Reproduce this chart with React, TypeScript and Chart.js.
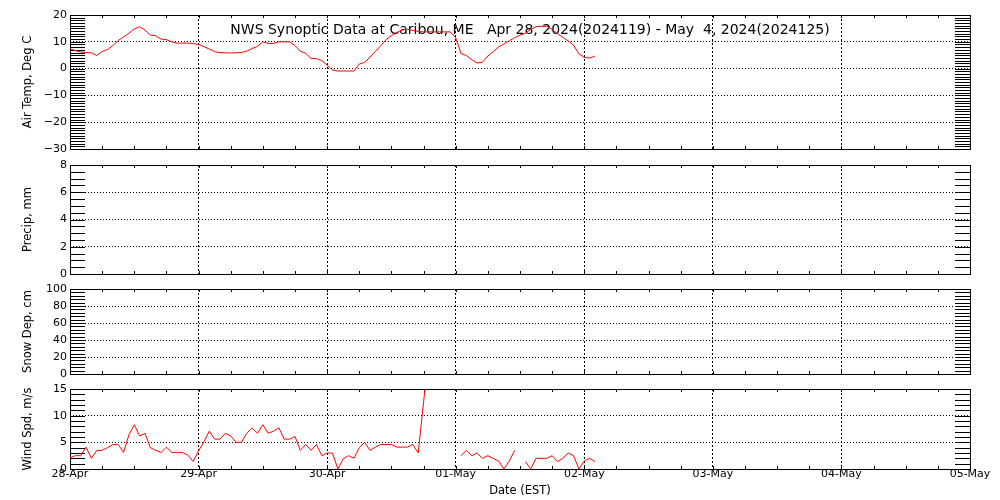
import React, { useEffect, useRef } from 'react';
import { Chart, registerables } from 'chart.js';

Chart.register(...registerables);

// ---------- data ----------
const DAY_LABELS = ['28-Apr', '29-Apr', '30-Apr', '01-May', '02-May', '03-May', '04-May', '05-May'];

// hourly air temperature (deg C) from 28-Apr 00 EST
const AIR_TEMP: (number | null)[] = [
  7.4, 6.7, 6.2, 6.0, 5.9, 4.9, 6.4, 7.1, 8.6, 10.5,
  11.8, 13.2, 14.8, 15.6, 14.4, 12.5, 12.3, 11.0, 10.8, 10.0,
  9.5, 9.5, 9.5, 9.3, 9.0, 8.2, 7.3, 6.3, 6.0, 5.9,
  5.8, 5.9, 6.0, 6.5, 7.5, 8.3, 10.0, 9.4, 9.4, 10.0,
  10.0, 10.0, 8.6, 6.5, 5.7, 3.8, 3.7, 3.0, 1.3, -0.5,
  -0.9, -0.9, -0.9, -0.9, 1.7, 2.3, 4.3, 6.4, 8.5, 10.8,
  12.3, 13.5, 14.4, 14.7, 14.2, 13.9, 13.7, 13.7, 13.7, 13.7,
  13.7, 13.7, 11.5, 5.6, 4.9, 3.3, 2.1, 2.4, 4.7, 6.3,
  8.1, 9.2, 10.4, 11.5, 12.5, 13.2, 14.6, 15.7, 15.8, 15.8,
  14.6, 13.0, 11.7, 10.3, 8.8, 5.5, 4.2, 3.9, 4.7,
];

// hourly precipitation (mm): no reports in the period
const PRECIP: (number | null)[] = [];

// hourly snow depth (cm): no reports in the period
const SNOW_DEPTH: (number | null)[] = [];

// hourly wind speed (m/s)
const WIND_SPD: (number | null)[] = [
  2.1, 2.5, 2.5, 4.1, 2.0, 3.5, 3.5, 4.0, 4.6, 4.6,
  3.1, 6.4, 8.3, 6.2, 6.7, 4.0, 3.5, 3.1, 4.1, 3.1,
  3.1, 3.1, 2.6, 1.4, 3.4, 5.1, 7.1, 5.6, 5.6, 6.7,
  6.2, 5.0, 5.0, 6.7, 7.7, 6.7, 8.3, 6.7, 7.1, 7.7,
  5.6, 5.6, 6.1, 3.5, 4.6, 3.5, 4.6, 2.5, 3.0, 3.0,
  0.0, 1.9, 2.5, 2.0, 4.0, 5.0, 3.5, 4.1, 4.6, 4.6,
  4.6, 4.1, 4.1, 4.1, 4.6, 3.0, 12.5, 22.0, null, null,
  null, null, null, 2.5, 3.5, 2.5, 3.0, 2.0, 2.5, 2.0,
  1.5, 0.0, 1.5, 3.5, null, 1.4, 0.0, 2.0, 2.0, 2.0,
  2.5, 1.4, 2.0, 3.0, 2.5, 0.0, 1.5, 2.0, 1.4,
];

const TITLE = 'NWS Synoptic Data at Caribou, ME   Apr 28, 2024(2024119) - May  4, 2024(2024125)';
const X_TITLE = 'Date (EST)';

// ---------- layout / style ----------
const FONT = 'DejaVu Sans';
const W = 1000;
const H = 500;
const PLOT_LEFT = 70;
const PLOT_RIGHT = 970;
const HOURS_TOTAL = 168;

type PanelCfg = {
  id: string;
  label: string;
  data: (number | null)[];
  min: number;
  max: number;
  major: number;
  minor: number;
  top: number;
  bottom: number;
  showX: boolean;
  title?: boolean;
};

const PANELS: PanelCfg[] = [
  { id: 'temp', label: 'Air Temp, Deg C', data: AIR_TEMP, min: -30, max: 20, major: 10, minor: 1, top: 15, bottom: 149, showX: false, title: true },
  { id: 'precip', label: 'Precip, mm', data: PRECIP, min: 0, max: 8, major: 2, minor: 0.5, top: 165, bottom: 274, showX: false },
  { id: 'snow', label: 'Snow Dep, cm', data: SNOW_DEPTH, min: 0, max: 100, major: 20, minor: 4, top: 289, bottom: 374, showX: false },
  { id: 'wind', label: 'Wind Spd, m/s', data: WIND_SPD, min: 0, max: 15, major: 5, minor: 1, top: 389, bottom: 469, showX: true },
];

const fmtNum = (v: number) => (v < 0 ? '\u2212' + Math.abs(v) : String(v));

const idlFrame = {
  id: 'idlFrame',
  beforeDatasetsDraw(chart: any, _args: any, opts: any) {
    const { ctx, chartArea, scales } = chart;
    const { left, right, top, bottom } = chartArea;
    const x = scales.x;
    const y = scales.y;
    ctx.save();
    ctx.strokeStyle = '#000';
    ctx.lineWidth = 1;
    ctx.setLineDash([]);
    ctx.beginPath();
    const n = Math.round((y.max - y.min) / opts.minor);
    for (let i = 0; i <= n; i++) {
      const py = Math.round(y.getPixelForValue(y.min + i * opts.minor)) + 0.5;
      ctx.moveTo(left, py);
      ctx.lineTo(left + 15, py);
      ctx.moveTo(right - 15, py);
      ctx.lineTo(right, py);
    }
    for (let h = 0; h <= x.max; h += 6) {
      const px = Math.round(x.getPixelForValue(h)) + 0.5;
      ctx.moveTo(px, top);
      ctx.lineTo(px, top + 3);
      ctx.moveTo(px, bottom);
      ctx.lineTo(px, bottom - 3);
    }
    ctx.stroke();
    ctx.strokeRect(Math.round(left) + 0.5, Math.round(top) + 0.5, Math.round(right - left), Math.round(bottom - top));
    if (opts.title) {
      ctx.fillStyle = '#000';
      ctx.font = `14px "${FONT}"`;
      ctx.textAlign = 'center';
      ctx.textBaseline = 'middle';
      ctx.fillText(opts.title, 530, 30);
    }
    ctx.restore();
  },
};

function buildConfig(p: PanelCfg): any {
  return {
    type: 'line',
    data: {
      datasets: [
        {
          label: p.label,
          data: p.data.map((v, i) => ({ x: i, y: v })),
          borderColor: '#ff0000',
          borderWidth: 1,
          pointRadius: 0,
          tension: 0,
          spanGaps: false,
          fill: false,
        },
      ],
    },
    plugins: [idlFrame],
    options: {
      responsive: false,
      animation: false,
      devicePixelRatio: 1,
      events: [],
      layout: {
        padding: { left: 0, right: W - PLOT_RIGHT, top: p.top, bottom: p.showX ? 0 : H - p.bottom },
      },
      plugins: {
        legend: { display: false },
        tooltip: { enabled: false },
        title: { display: false },
        idlFrame: { minor: p.minor, title: p.title ? TITLE : '' },
      },
      scales: {
        x: {
          type: 'linear',
          min: 0,
          max: HOURS_TOTAL,
          afterFit: (s: any) => {
            s.height = p.showX ? H - p.bottom : 0;
          },
          ticks: {
            display: p.showX,
            stepSize: 24,
            autoSkip: false,
            maxRotation: 0,
            padding: 0,
            color: '#000',
            font: { family: FONT, size: 11, lineHeight: 1 },
            callback: (v: number) => DAY_LABELS[Math.round(v / 24)] ?? '',
          },
          grid: { drawTicks: false, drawOnChartArea: true, color: '#000', lineWidth: 1 },
          border: { display: false, dash: [2, 2] },
          title: {
            display: p.showX,
            text: X_TITLE,
            color: '#000',
            font: { family: FONT, size: 11.5 },
            padding: { top: 0, bottom: 2.4 },
          },
        },
        y: {
          type: 'linear',
          min: p.min,
          max: p.max,
          afterFit: (s: any) => {
            s.width = PLOT_LEFT;
          },
          ticks: {
            stepSize: p.major,
            autoSkip: false,
            padding: 3,
            color: '#000',
            font: { family: FONT, size: 11 },
            callback: (v: number) => fmtNum(v),
          },
          grid: { drawTicks: false, drawOnChartArea: true, color: '#000', lineWidth: 1 },
          border: { display: false, dash: [1, 2] },
          title: {
            display: true,
            text: p.label,
            color: '#000',
            font: { family: FONT, size: 11.5 },
            padding: { top: 21, bottom: 0 },
          },
        },
      },
    },
  };
}

export default function App() {
  const refs = useRef<(HTMLCanvasElement | null)[]>([]);

  useEffect(() => {
    Chart.defaults.font.family = FONT;
    const charts = PANELS.map((p, i) => new Chart(refs.current[i] as HTMLCanvasElement, buildConfig(p)));
    return () => charts.forEach((c) => c.destroy());
  }, []);

  return (
    <div style={{ position: 'absolute', left: 0, top: 0, width: W, height: H, background: '#fff' }}>
      {PANELS.map((p, i) => (
        <canvas
          key={p.id}
          ref={(el) => {
            refs.current[i] = el;
          }}
          width={W}
          height={H}
          style={{ position: 'absolute', left: 0, top: 0, width: W, height: H }}
        />
      ))}
    </div>
  );
}
